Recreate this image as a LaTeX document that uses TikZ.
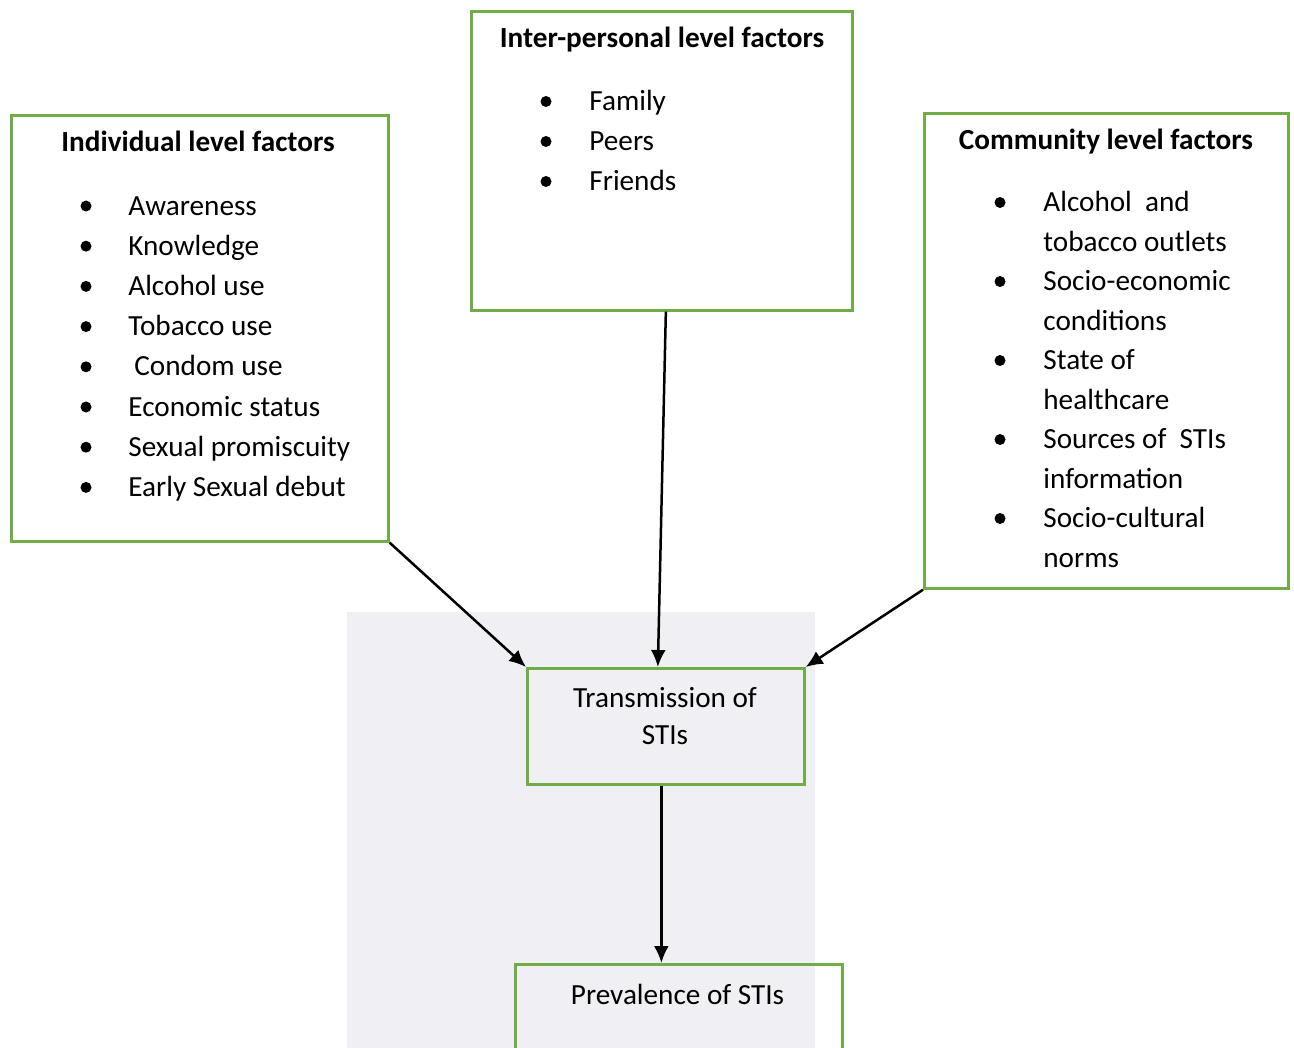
\documentclass[tikz,border=0pt]{standalone}
\usepackage{fontspec}
\setmainfont{Carlito}
\usepackage{xcolor}
\usetikzlibrary{arrows.meta, positioning}
\definecolor{boxgreen}{HTML}{70AD47}
\definecolor{wmgray}{HTML}{EFEFF4}
\tikzset{
  factorbox/.style={draw=boxgreen, line width=1.35pt, inner sep=0pt, anchor=north west},
  boxtitle/.style={anchor=base, inner sep=0pt, font=\fontsize{14.6}{17}\selectfont\bfseries},
  boxitem/.style={anchor=base west, inner sep=0pt, font=\fontsize{14.6}{17}\selectfont},
  boxtext/.style={anchor=base, inner sep=0pt, font=\fontsize{14.6}{17}\selectfont},
  link/.style={-{Latex[length=8.5pt,width=7.5pt]}, line width=1.25pt},
}

\begin{document}
\begin{tikzpicture}[x=0.5pt,y=-0.5pt]
\clip (0,0) rectangle (1294,1048);
% Watermark area
\fill[wmgray] (347,612) rectangle (815,1048);

% Boxes
\node[factorbox, minimum width=188.5pt, minimum height=213pt] (indiv) at (10,114) {};
\node[factorbox, minimum width=190.5pt, minimum height=149.5pt] (inter) at (470,10) {};
\node[factorbox, minimum width=182pt, minimum height=237.5pt] (comm) at (923,112) {};
\node[factorbox, minimum width=138.5pt, minimum height=58pt] (trans) at (526,667) {};
\node[factorbox, minimum width=163.5pt, minimum height=70pt] (prev) at (514,963) {};

% Titles
\node[boxtitle] (indiv-title) at (198,152) {Individual level factors};
\node[boxtitle] (inter-title) at (662,48) {Inter-personal level factors};
\node[boxtitle] (comm-title) at (1106,150) {Community level factors};

% Individual level items
\foreach \i/\txt in {1/Awareness,2/Knowledge,3/Alcohol use,4/Tobacco use,
                     6/Economic status,7/Sexual promiscuity,8/Early Sexual debut} {
    \node[boxitem] (indiv-\i) at (128,{215+40.2*(\i-1)}) {\txt};
}
\node[boxitem] (indiv-5) at (134,{215+40.2*4}) {Condom use};
\foreach \i in {1,...,8} {
    \fill (86,{215+40.2*(\i-1)-9}) circle (5.5);
}

% Inter-personal level items
\foreach \i/\txt in {1/Family,2/Peers,3/Friends} {
    \node[boxitem] (inter-\i) at (589,{111+40*(\i-1)}) {\txt};
    \fill (546,{111+40*(\i-1)-9.5}) circle (5.5);
}

% Community level items
\foreach \i/\txt in {1/{Alcohol~ and},2/tobacco outlets,3/Socio-economic,4/conditions,
                     5/State of,6/healthcare,7/{Sources of~ STIs},8/information,
                     9/Socio-cultural,10/norms} {
    \node[boxitem] (comm-\i) at (1043,{211.5+39.5*(\i-1)}) {\txt};
}
\foreach \i in {1,3,5,7,9} {
    \fill (1000,{211.5+39.5*(\i-1)-9}) circle (5.5);
}

% Outcome texts
\node[boxtext] (trans-1) at (665,707) {Transmission of};
\node[boxtext] (trans-2) at (665,744) {STIs};
\node[boxtext] (prev-text) at (677.5,1004) {Prevalence of STIs};

% Links
\draw[link] (indiv.south east) -- (trans.north west);
\draw[link] ([xshift=2pt]inter.south) -- ([xshift=-4pt]trans.north);
\draw[link] (comm.south west) -- (trans.north east);
\draw[link] ([xshift=-2.25pt]trans.south) -- ([xshift=-8.75pt]prev.north);
\end{tikzpicture}
\end{document}
